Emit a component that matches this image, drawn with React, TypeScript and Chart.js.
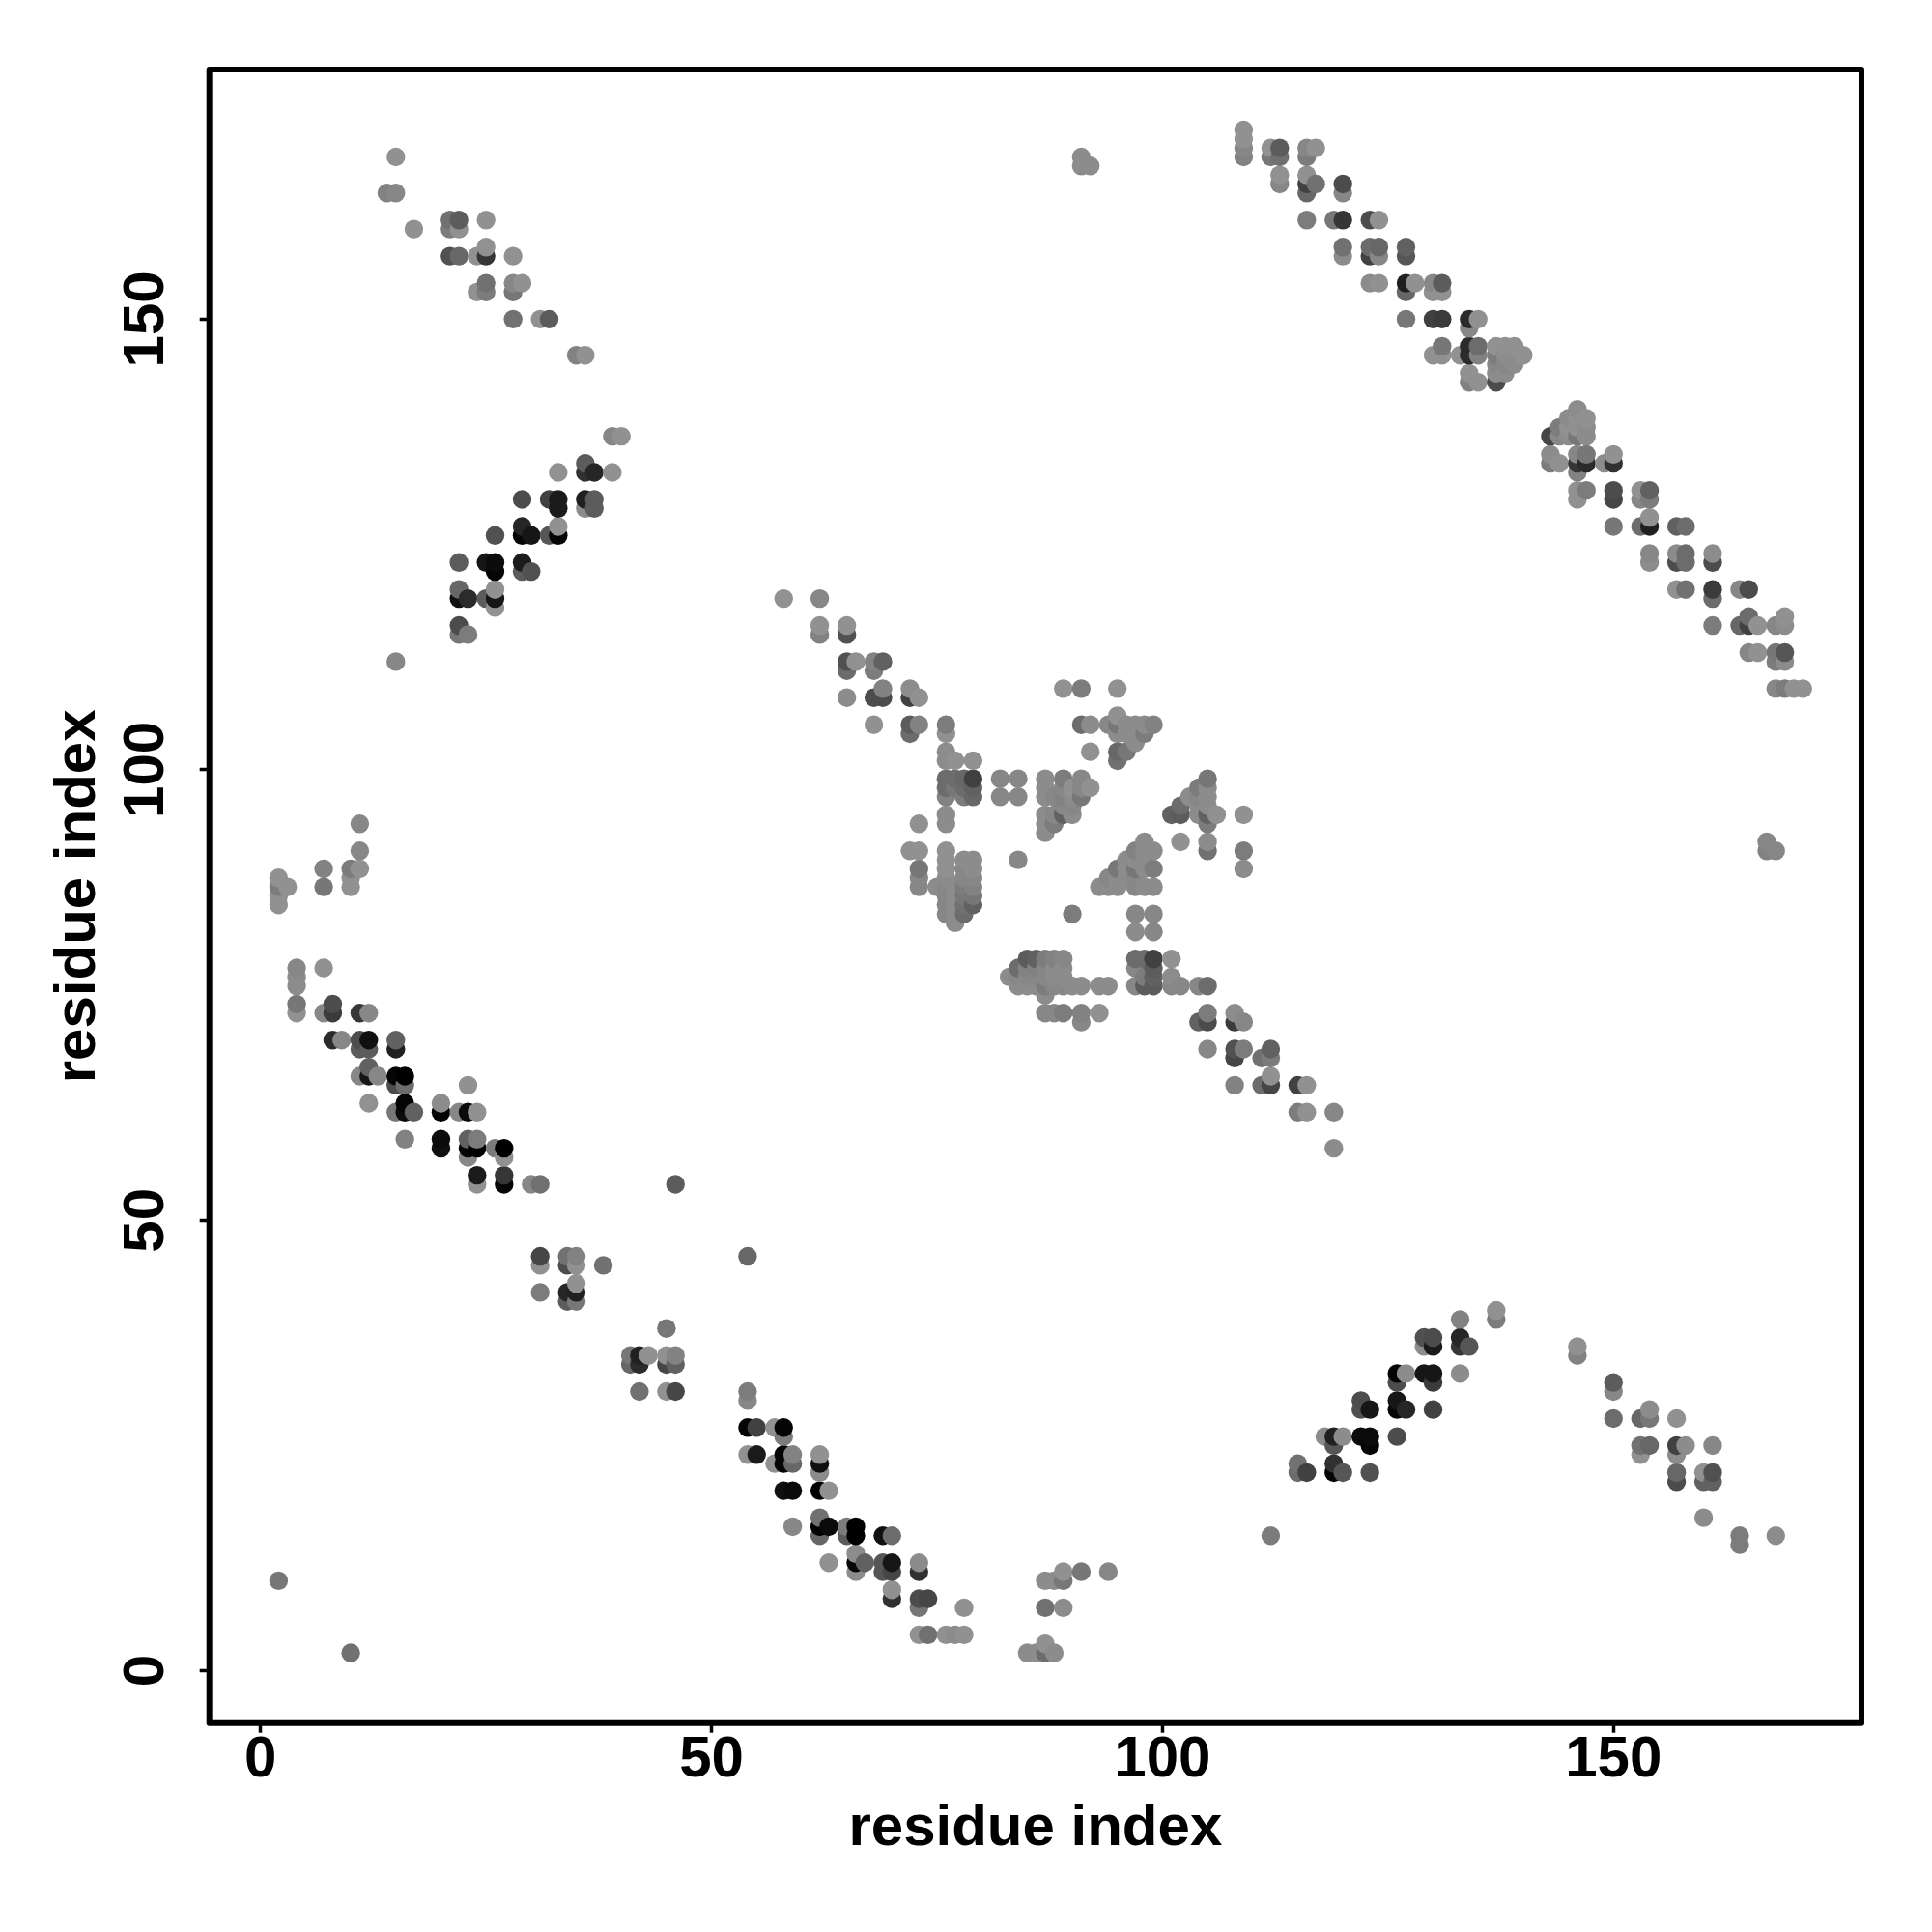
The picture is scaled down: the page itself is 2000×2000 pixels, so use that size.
import React, { useEffect, useRef } from "react";
import { Chart, registerables } from "chart.js";

Chart.register(...registerables);

// each contact: [residue i, residue j, grey level]
const upperLeftBand = [
  [15,168,140],[14,164,120],[15,164,125],[21,161,105],[22,161,85],[25,161,135],[17,160,140],[21,160,115],[22,160,140],
  [25,158,140],[21,157,75],[22,157,95],[24,157,145],[25,157,50],[28,157,145],[25,154,105],[28,154,125],[29,154,140],
  [24,153,140],[25,153,115],[28,153,110],[28,150,105],[31,150,145],[32,150,85],[35,146,120],[36,146,135],
];
const upperLeftStrand = [
  [39,137,125],[40,137,140],[36,134,85],[33,133,135],[36,133,45],[37,133,35],[39,133,140],[29,130,70],[32,130,60],
  [33,130,25],[36,130,30],[37,130,85],[33,129,25],[36,129,130],[37,129,85],[29,127,35],[33,127,145],[26,126,75],
  [29,126,5],[30,126,20],[32,126,80],[33,126,5],[22,123,85],[25,123,20],[26,123,10],[29,123,25],[26,122,5],[29,122,85],
  [30,122,75],[22,120,95],[26,120,145],[22,119,15],[23,119,40],[25,119,85],[26,119,20],[26,118,145],[22,116,70],
  [22,115,110],[23,115,115],[15,112,125],
];
const upperRightBandA = [
  [91,168,130],[91,167,130],[92,167,130],
  [109,168,120],[109,169,125],[109,170,140],[109,171,135],[112,168,110],[112,169,135],[113,165,125],[113,166,145],
  [113,168,105],[113,169,85],[116,161,115],[116,164,95],[116,165,60],[116,166,145],[116,168,115],[116,169,125],
  [117,165,105],[117,169,145],[119,161,110],[120,157,130],[120,158,105],[120,161,50],[120,164,125],[120,165,70],
  [123,154,130],[123,157,60],[123,158,100],[123,161,70],[124,154,135],[124,157,125],[124,158,95],[124,161,140],
  [127,150,110],[127,153,95],[127,154,30],[127,157,80],[127,158,90],[128,154,140],[130,146,135],[130,150,60],
  [130,153,135],[130,154,125],[131,146,135],[131,147,110],[131,150,55],[131,153,135],[131,154,85],[133,146,135],
  [134,143,120],[134,144,140],[134,146,40],[134,147,40],[134,149,125],[134,150,40],[135,143,135],[135,146,120],
  [135,147,100],[135,150,140],[137,143,70],[137,144,130],[137,145,125],[137,146,115],[137,147,135],[138,144,130],
  [138,145,125],[138,146,130],[138,147,135],[139,145,130],[139,146,130],[139,147,140],[140,146,135],
];
const upperRightBandB = [
  [143,137,65],[143,135,130],[143,134,115],[144,138,115],[144,137,125],[144,134,135],[145,139,130],[145,138,135],
  [145,137,130],[146,140,130],[146,139,135],[146,138,140],[146,137,110],[146,135,125],[146,134,50],[146,133,120],
  [146,131,135],[146,130,140],[147,139,140],[147,138,130],[147,137,130],[147,135,110],[147,134,40],[147,131,115],
  [149,134,130],[150,135,135],[150,134,45],[150,131,70],[150,130,65],[150,127,110],[153,131,135],[153,130,125],
  [153,127,100],[154,131,90],[154,130,115],[154,128,135],[154,127,30],[154,124,125],[154,123,130],[157,127,90],
  [157,124,130],[157,123,70],[157,120,135],[158,127,100],[158,124,100],[158,123,100],[158,120,105],[161,124,130],
  [161,123,70],[161,120,55],[161,119,100],[161,116,115],[164,120,125],[164,116,95],[165,120,70],[165,117,100],
  [165,116,60],[165,113,125],[166,116,135],[166,113,135],[168,116,125],[168,113,110],[168,112,115],[168,109,125],
  [169,117,135],[169,116,130],[169,113,80],[169,112,130],[169,109,115],[170,109,135],[171,109,135],
  [167,92,125],[167,91,120],[168,91,125],
];
const centralUpperArm = [
  [58,119,140],[62,119,125],[62,116,135],[62,115,120],[65,116,135],[65,115,75],[65,112,75],[65,111,100],[65,108,130],
  [66,112,135],[68,112,120],[68,111,115],[68,108,70],[68,105,140],[69,112,90],[69,109,120],[69,108,70],[72,109,130],
  [72,108,60],[72,105,85],[72,104,100],[73,108,140],[73,105,120],[76,105,115],[76,104,135],[76,102,130],[76,101,130],
  [76,99,100],[76,98,100],[76,97,120],[76,95,130],[76,94,130],[76,91,135],[76,90,135],[76,89,135],[76,88,130],
  [76,87,125],[76,86,125],[76,85,125],[76,84,125],[77,101,135],[77,99,100],[77,98,110],[77,87,130],[77,86,130],
  [77,85,130],[77,84,130],[77,83,130],[78,99,95],[78,98,100],[78,97,115],[78,90,130],[78,89,125],[78,88,125],
  [78,87,115],[78,86,110],[78,85,105],[78,84,100],[79,101,140],[79,99,60],[79,98,90],[79,97,95],[79,90,130],
  [79,89,130],[79,88,125],[79,87,120],[79,86,110],[79,85,90],[72,91,135],[73,91,135],[73,94,135],[73,89,110],
  [73,88,125],[73,87,125],[75,87,130],[82,99,125],[82,97,125],[84,99,125],[84,97,125],[84,90,125],
];
const centralUpperCross = [
  [87,99,130],[87,98,130],[87,97,130],[87,95,130],[87,94,130],[87,93,130],[88,97,125],[88,95,125],[88,94,115],
  [89,109,135],[89,99,115],[89,98,125],[89,97,120],[89,96,125],[89,95,90],[90,98,135],[90,97,130],[90,96,125],
  [90,95,130],[91,109,115],[91,105,100],[91,99,125],[91,98,125],[91,97,110],[92,105,130],[92,102,135],[92,98,135],
  [94,105,125],[95,109,135],[95,106,135],[95,105,110],[95,104,130],[95,102,95],[95,101,105],[96,105,130],[96,104,130],
  [96,102,110],[97,105,130],[97,104,130],[97,103,130],[98,105,130],[98,104,115],[99,105,120],
];
const centralLowerCross = [
  [101,95,90],[102,96,100],[102,95,85],[102,92,135],[103,97,130],[104,98,115],[104,97,125],[104,96,130],[104,95,130],
  [105,99,110],[105,98,130],[105,97,130],[105,96,130],[105,95,90],[105,94,115],[105,92,130],[105,91,105],[106,95,135],
  [109,95,135],[109,91,115],[109,89,130],[93,87,130],[94,88,125],[94,87,130],[95,89,110],[95,88,130],[95,87,130],
  [96,90,130],[96,89,130],[96,88,130],[97,91,120],[97,90,130],[97,89,110],[97,88,125],[97,87,125],[98,92,130],
  [98,91,130],[98,90,130],[98,89,130],[98,87,130],[99,91,130],[99,89,115],[99,87,130],[90,84,115],[97,84,125],
  [99,84,125],[97,82,130],[99,82,125],
];
const centralLowerArm = [
  [83,77,130],[84,78,100],[84,77,125],[84,76,130],[85,79,85],[85,78,120],[85,77,125],[85,76,130],[86,79,90],[86,78,120],
  [86,77,125],[86,76,130],[87,79,115],[87,78,125],[87,77,125],[87,76,115],[87,75,130],[87,73,125],[88,79,120],
  [88,78,130],[88,77,130],[88,76,125],[88,73,125],[89,79,125],[89,78,130],[89,77,130],[89,76,125],[89,73,115],
  [90,76,130],[91,76,130],[91,73,120],[91,72,125],[93,76,130],[94,76,130],[93,73,135],[97,79,100],[97,78,125],
  [97,76,125],[98,79,100],[98,77,115],[98,76,85],[99,79,60],[99,78,85],[99,77,90],[99,76,85],[101,79,135],[101,77,130],
  [101,76,125],[102,76,125],[104,76,125],[105,76,100],[105,73,115],[104,72,90],[105,72,70],[108,73,130],[108,72,55],
  [109,72,125],[105,69,125],[108,69,75],[108,68,65],[109,69,115],[111,68,105],[112,69,90],[112,68,115],[108,65,120],
  [111,65,100],[112,66,135],[112,65,65],[115,65,60],[116,65,135],[115,62,115],[116,62,135],[119,62,125],[119,58,130],
];
const leftEdgeStrand = [
  [2,88,135],[2,87,115],[2,86,135],[2,85,135],[3,87,135],[7,89,120],[7,87,110],[10,89,115],[10,88,135],[10,87,135],
  [11,89,135],[11,91,125],[11,94,125],[4,78,125],[4,77,130],[4,76,130],[4,74,110],[4,73,135],[7,78,140],[7,73,125],
  [8,74,70],[8,73,55],[2,10,110],[10,2,105],
];
const lowerLeftBand = [
  [11,73,50],[12,73,125],[8,70,40],[9,70,125],[11,70,70],[11,69,85],[12,70,15],[12,69,85],[15,70,90],[15,69,30],
  [12,67,90],[11,66,125],[12,66,20],[13,66,125],[15,66,5],[15,65,70],[16,66,0],[16,65,100],[12,63,135],[16,63,5],
  [16,62,10],[15,62,110],[17,62,90],[20,63,130],[20,62,0],[23,65,135],[22,62,125],[23,62,10],[24,62,135],[16,59,120],
  [20,59,10],[20,58,15],[23,59,90],[23,58,5],[23,57,125],[24,59,115],[24,58,0],[26,58,115],[27,58,0],[27,57,135],
  [24,55,25],[24,54,135],[27,55,50],[27,54,5],[30,54,125],[31,54,105],
];
const lowerMiddleBand = [
  [31,46,65],[31,45,135],[31,42,115],[34,46,105],[34,45,70],[34,42,35],[34,41,85],[35,46,120],[35,45,135],[35,43,145],
  [35,42,30],[35,41,110],[38,45,105],[41,35,110],[41,34,95],[42,35,30],[42,34,40],[42,31,105],[43,35,140],[45,38,110],
  [45,35,135],[45,34,65],[45,31,140],[46,35,120],[46,34,90],[46,31,65],[46,54,85],
];
const lowerCentreBand = [
  [54,46,95],[54,31,115],[54,30,125],[54,27,5],[54,24,135],[55,27,60],[55,24,25],[57,27,145],[57,23,135],[58,27,5],
  [58,26,115],[58,24,5],[58,23,5],[58,20,15],[59,24,120],[59,23,95],[59,20,10],[59,16,125],[62,24,145],[62,23,15],
  [62,22,130],[62,20,0],[62,17,105],[62,16,0],[62,15,95],[63,20,140],[63,16,10],[63,12,135],[65,16,115],[65,15,85],
  [66,16,0],[66,15,0],[66,13,130],[66,12,5],[66,11,130],[67,12,90],[69,15,15],[69,12,80],[69,11,80],[70,15,100],
  [70,12,20],[70,11,65],[70,9,135],[70,8,45],[73,12,130],[73,11,45],[73,8,70],[73,7,110],[73,4,135],[74,8,65],
  [74,4,105],[76,4,135],[77,4,130],[78,4,135],[78,7,140],
];
const lowerCentreTail = [
  [87,10,130],[88,10,130],[89,10,110],[89,11,135],[91,11,110],[94,11,125],[87,7,105],[89,7,130],[85,2,130],[86,2,130],
  [87,2,100],[87,3,135],[88,2,130],
];
const lowerRightStrand = [
  [112,15,115],[115,23,105],[115,22,100],[116,22,60],[118,26,130],[119,26,30],[119,25,80],[119,23,45],[119,22,5],
  [120,26,130],[120,22,80],[122,30,70],[122,29,75],[122,26,10],[123,29,20],[123,26,10],[123,25,5],[123,22,75],
  [126,33,5],[126,32,70],[126,30,20],[126,29,5],[126,26,70],[127,33,130],[127,29,35],[129,37,75],[129,36,130],
  [129,33,20],[130,37,70],[130,36,25],[130,33,20],[130,32,55],[130,29,60],[133,39,120],[133,37,35],[133,36,50],
  [133,33,130],[134,36,80],[137,40,135],[137,39,115],
];
const lowerRightBand = [
  [146,36,135],[146,35,120],[150,32,85],[150,31,125],[150,28,100],[153,28,95],[153,25,105],[153,24,135],[154,29,130],
  [154,28,110],[154,25,95],[157,28,135],[157,25,60],[157,24,130],[157,22,95],[157,21,70],[158,25,130],[160,22,135],
  [160,21,90],[160,17,130],[161,25,125],[161,22,75],[161,21,90],[164,15,115],[164,14,115],[168,15,130],
];

const tickStep = 50;
const axisLabel = "residue index";

const contacts = [
  ...upperLeftBand, ...upperLeftStrand, ...upperRightBandA, ...upperRightBandB, ...centralUpperArm,
  ...centralUpperCross, ...centralLowerCross, ...centralLowerArm, ...leftEdgeStrand, ...lowerLeftBand,
  ...lowerMiddleBand, ...lowerCentreBand, ...lowerCentreTail, ...lowerRightStrand, ...lowerRightBand,
].sort((a, b) => a[0] - b[0] || a[1] - b[1]);

const shade = (level: number) => {
  const g = Math.min(145, Math.round(level * 1.08));
  return `rgb(${g},${g},${g})`;
};

const FONT = "'Liberation Sans', Arial, sans-serif";
const AREA = { left: 216.7, top: 72, right: 1927, bottom: 1783.7 };

const frame = {
  id: "frame",
  afterDraw(chart: any) {
    const { ctx, chartArea: a } = chart;
    ctx.save();
    ctx.strokeStyle = "#000";
    ctx.lineWidth = 6;
    ctx.lineJoin = "round";
    ctx.strokeRect(a.left, a.top, a.right - a.left, a.bottom - a.top);
    ctx.restore();
  },
};

export default function App() {
  const ref = useRef<HTMLCanvasElement>(null);
  useEffect(() => {
    const chart = new Chart(ref.current!, {
      type: "scatter",
      plugins: [frame],
      data: {
        datasets: [
          {
            data: contacts.map((c) => ({ x: c[0], y: c[1] })),
            backgroundColor: contacts.map((c) => shade(c[2])),
            pointRadius: 9.7,
            pointHoverRadius: 9.7,
            borderWidth: 0,
          },
        ],
      },
      options: {
        animation: false,
        responsive: false,
        events: [],
        layout: { padding: { left: 0, top: AREA.top, right: 2000 - AREA.right, bottom: 0 } },
        plugins: { legend: { display: false }, tooltip: { enabled: false } },
        scales: {
          x: {
            type: "linear",
            min: -5.68,
            max: 177.5,
            afterFit(s: any) { s.height = 2000 - AREA.bottom; },
            border: { display: false },
            grid: { drawOnChartArea: false, color: "#000", tickLength: 10, tickWidth: 3.5 },
            ticks: {
              stepSize: tickStep,
              includeBounds: false,
              maxRotation: 0,
              autoSkip: false,
              color: "#000",
              padding: -7.5,
              font: { family: FONT, weight: "bold", size: 60 },
            },
            title: {
              display: true,
              text: axisLabel,
              color: "#000",
              font: { family: FONT, weight: "bold", size: 60 },
              padding: { top: 0, bottom: 70.3 },
            },
          },
          y: {
            type: "linear",
            min: -5.79,
            max: 177.7,
            afterFit(s: any) { s.width = AREA.left; },
            border: { display: false },
            grid: { drawOnChartArea: false, color: "#000", tickLength: 10, tickWidth: 3.5 },
            ticks: {
              stepSize: tickStep,
              includeBounds: false,
              minRotation: 90,
              maxRotation: 90,
              autoSkip: false,
              crossAlign: "center",
              color: "#000",
              padding: 4,
              font: { family: FONT, weight: "bold", size: 60 },
            },
            title: {
              display: true,
              text: axisLabel,
              color: "#000",
              font: { family: FONT, weight: "bold", size: 60 },
              padding: { top: 45, bottom: 0 },
            },
          },
        },
      },
    } as any);
    return () => chart.destroy();
  }, []);
  return (
    <div style={{ position: "absolute", left: 0, top: 0, width: 2000, height: 2000 }}>
      <canvas ref={ref} width={2000} height={2000} style={{ display: "block" }} />
    </div>
  );
}
